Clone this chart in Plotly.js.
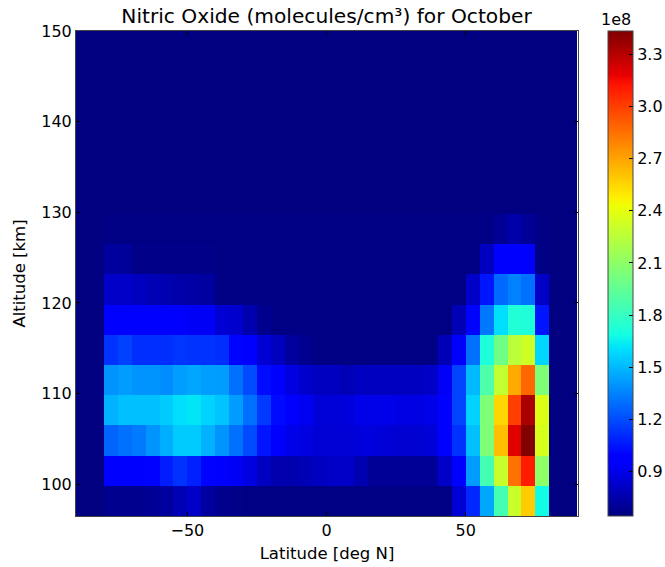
<!DOCTYPE html>
<html><head><meta charset="utf-8">
<script src="https://cdn.plot.ly/plotly-3.0.1.min.js"></script>
<style>html,body{margin:0;padding:0;background:#fff}</style></head>
<body><div id="chart" style="width:665px;height:567px"></div>
<script>
const latEdges=[-90,-85,-80,-75,-70,-65,-60,-55,-50,-45,-40,-35,-30,-25,-20,-15,-10,-5,0,5,10,15,20,25,30,35,40,45,50,55,60,65,70,75,80,85,90];
const altEdges=[96.5,99.83,103.17,106.5,109.83,113.17,116.5,119.83,123.17,126.5,129.83,133.17,136.5,139.83,143.17,146.5,150];
const bg=0.65;
// each row: 2 background columns, 32 columns from -80 to 80, 2 background columns (units of 1e8)
const row0=[bg,bg,.68,.68,.68,.70,.72,.78,.82,.72,.68,.67,.66,.66,.66,.66,.66,.66,.66,.66,.66,.66,.66,.66,.66,.66,.66,.85,1.10,1.45,1.85,2.30,2.58,1.68,bg,bg];
const row1=[bg,bg,.95,.95,.95,1.0,1.07,1.13,1.08,1.0,.95,.93,.88,.80,.76,.76,.78,.80,.82,.82,.76,.70,.70,.70,.70,.70,.82,.95,1.42,1.85,2.30,2.85,3.10,2.10,bg,bg];
const row2=[bg,bg,1.27,1.30,1.33,1.40,1.47,1.55,1.55,1.48,1.40,1.30,1.20,1.05,.95,.90,.88,.85,.85,.85,.87,.87,.85,.84,.84,.86,.95,1.13,1.52,2.05,2.62,3.20,3.43,2.35,bg,bg];
const row3=[bg,bg,1.48,1.52,1.52,1.52,1.55,1.60,1.62,1.57,1.53,1.42,1.30,1.15,1.02,.95,.92,.86,.86,.87,.90,.90,.90,.89,.89,.90,.95,1.18,1.57,2.05,2.55,3.00,3.33,2.37,bg,bg];
const row4=[bg,bg,1.40,1.42,1.40,1.40,1.38,1.43,1.45,1.43,1.42,1.30,1.20,1.02,.97,.88,.83,.80,.80,.78,.80,.80,.80,.80,.80,.82,.93,1.18,1.50,1.88,2.28,2.68,2.88,2.05,bg,bg];
const row5=[bg,bg,1.13,1.17,1.12,1.12,1.12,1.14,1.13,1.13,1.12,1.0,.95,.85,.80,.72,.68,.66,.66,.66,.66,.66,.66,.66,.66,.66,.78,.97,1.30,1.72,2.0,2.25,2.32,1.58,bg,bg];
const row6=[bg,bg,.97,.97,.95,.95,.95,.95,.93,.93,.85,.83,.76,.68,.66,.66,.66,.66,.66,.66,.66,.66,.66,.66,.66,.66,.66,.78,1.0,1.32,1.60,1.73,1.72,1.05,bg,bg];
const row7=[bg,bg,.82,.82,.80,.78,.77,.75,.74,.72,.66,.66,.66,.66,.66,.66,.66,.66,.66,.66,.66,.66,.66,.66,.66,.66,.66,.66,.82,1.05,1.28,1.35,1.30,.82,bg,bg];
const row8=[bg,bg,.72,.71,.67,.67,.67,.67,.67,.67,.66,.66,.66,.66,.66,.66,.66,.66,.66,.66,.66,.66,.66,.66,.66,.66,.66,.66,.66,.80,.97,.97,.97,.66,bg,bg];
const row9=[bg,bg,.66,.66,.66,.66,.66,.66,.66,.66,.66,.66,.66,.66,.66,.66,.66,.66,.66,.66,.66,.66,.66,.66,.66,.66,.66,.66,.66,.66,.70,.75,.70,.66,bg,bg];
const emptyRow=latEdges.slice(1).map(()=>bg);
const zRows=[row0,row1,row2,row3,row4,row5,row6,row7,row8,row9,emptyRow,emptyRow,emptyRow,emptyRow,emptyRow,emptyRow];
const cbTicks=[0.9,1.2,1.5,1.8,2.1,2.4,2.7,3.0,3.3];
const cbLabels=['0.9','1.2','1.5','1.8','2.1','2.4','2.7','3.0','3.3'];
const jet=[[0,'#00007f'],[0.11,'#0000ff'],[0.125,'#0000ff'],[0.34,'#00dbff'],[0.35,'#00e6f7'],[0.375,'#15ffe2'],[0.64,'#eeff04'],[0.65,'#f7f500'],[0.66,'#ffec00'],[0.89,'#ff1300'],[0.91,'#e80000'],[1,'#7f0000']];
const font={family:'"DejaVu Sans",sans-serif',size:16,color:'#000'};
const ax={showgrid:false,zeroline:false,showline:true,linecolor:'#444',linewidth:1,mirror:'allticks',ticks:'inside',ticklen:4,tickcolor:'#000',tickwidth:1,tickfont:font};
Plotly.newPlot('chart',[{type:'heatmap',x:latEdges,y:altEdges,z:zRows,zmin:0.645,zmax:3.434,zsmooth:false,colorscale:jet,
 colorbar:{x:1.0598,xanchor:'left',xref:'paper',y:0,yanchor:'bottom',yref:'paper',len:1,lenmode:'fraction',thickness:25,thicknessmode:'pixels',xpad:0,ypad:0,
  tickvals:cbTicks,ticktext:cbLabels,ticks:'inside',ticklen:4,tickcolor:'#000',tickfont:font,outlinecolor:'#444',outlinewidth:1}}],
{width:665,height:567,margin:{l:76,r:87,t:31,b:51,autoexpand:false},paper_bgcolor:'#fff',plot_bgcolor:'#fff',font:font,
 title:{text:'Nitric Oxide (molecules/cm\u00b3) for October',font:{family:font.family,size:20.2,color:'#000'},x:326.5/665,xanchor:'center',y:1,yanchor:'top',pad:{t:9}},
 xaxis:Object.assign({},ax,{range:[-90,90.3],tickvals:[-50,0,50],ticktext:['\u221250','0','50'],title:{text:'Latitude [deg N]',font:{family:font.family,size:16.5,color:'#000'},standoff:8}}),
 yaxis:Object.assign({},ax,{range:[96.5,150],tickvals:[100,110,120,130,140,150],title:{text:'Altitude [km]',font:{family:font.family,size:16.5,color:'#000'},standoff:11}}),
 annotations:[{xref:'paper',yref:'paper',x:1.075,y:1,xanchor:'center',yanchor:'bottom',yshift:0,text:'1e8',showarrow:false,font:font}]
},{displayModeBar:false});
</script></body></html>
